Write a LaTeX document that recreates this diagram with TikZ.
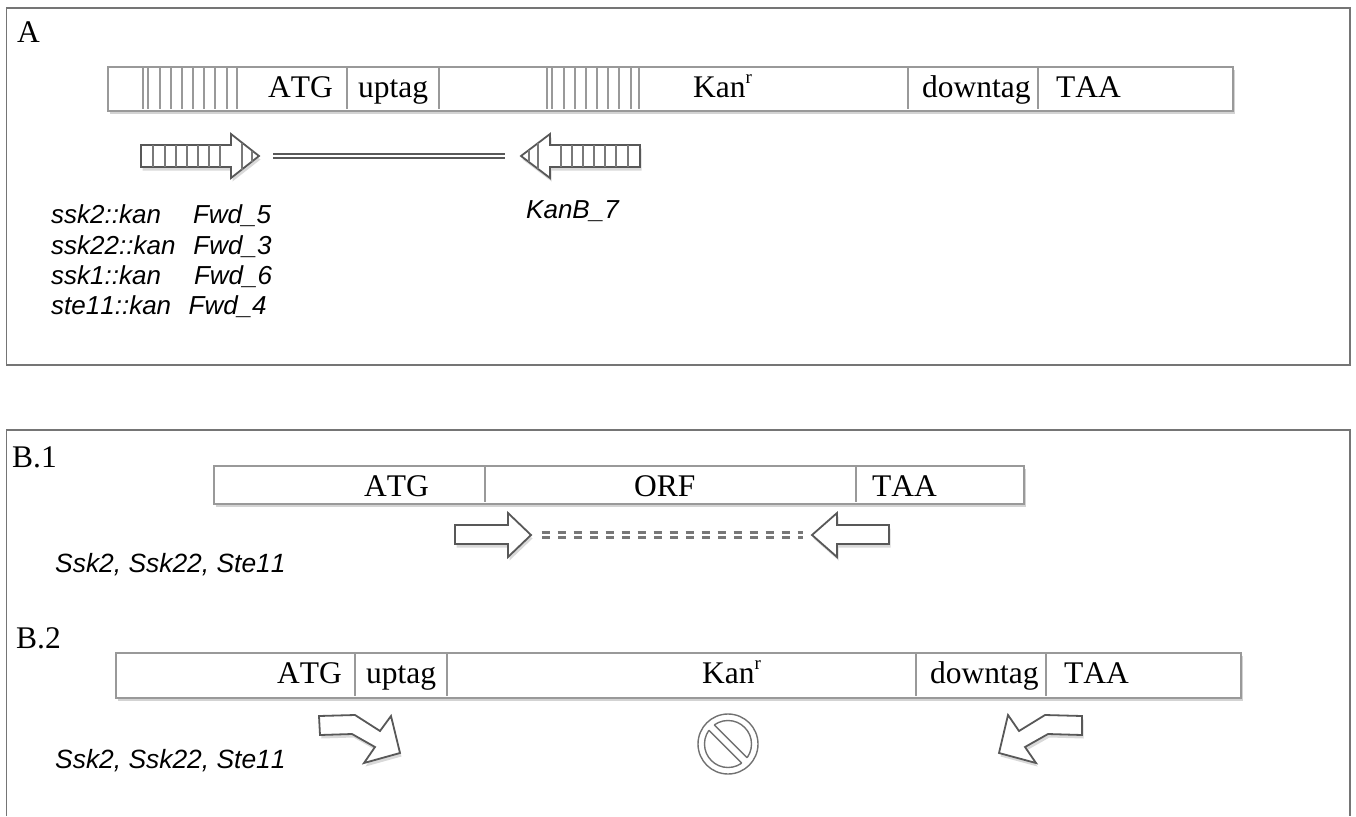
\documentclass[tikz,border=0pt]{standalone}
\usepackage{fontspec}
\setmainfont[Kerning=Off]{Liberation Serif}
\setsansfont[Kerning=Off]{Liberation Sans}
\usetikzlibrary{shadows}

\definecolor{boxgray}{HTML}{999999}
\definecolor{framegray}{HTML}{757575}
\definecolor{primergray}{HTML}{585858}
\definecolor{dashgray}{HTML}{777777}

\newcommand{\kanword}{Kan\raisebox{14pt}{\fontsize{19}{19}\selectfont r}}

\tikzset{
    frameline/.style={draw=framegray, line width=1.8pt},
    genebox/.style={draw=boxgray, line width=2.4pt, fill=white, anchor=north west, inner sep=0pt,
        drop shadow={shadow xshift=1.5pt, shadow yshift=-3pt, opacity=0.35}},
    divider/.style={draw=boxgray, line width=1.3pt},
    stripe/.style={draw=boxgray, line width=2pt},
    primer/.style={draw=primergray, line width=1.8pt, fill=white, line join=miter,
        drop shadow={shadow xshift=1.5pt, shadow yshift=-3.5pt, opacity=0.3}},
    primerstripe/.style={draw=primergray!80, line width=1.4pt},
    geneword/.style={anchor=base west, inner sep=0pt, font=\fontsize{31.5}{36}\selectfont},
    genelabel/.style={anchor=base west, inner sep=0pt, font=\fontsize{26}{30}\selectfont\sffamily\itshape},
    strainlabel/.style={genelabel, font=\fontsize{26.4}{30}\selectfont\sffamily\itshape},
    dsdna/.style={draw=primergray, line width=2.4pt, double=white, double distance=2pt},
    dashdna/.style={draw=dashgray, line width=2.8pt, double=white, double distance=2.2pt, dash pattern=on 8.3pt off 7.7pt},
}

\begin{document}
\begin{tikzpicture}[x=1pt, y=-1pt]

    \useasboundingbox (0,0) rectangle (1356,816);

    % Frames
    \draw[frameline] (6.5,8) rectangle (1350,365);
    \draw[frameline] (6.5,816) -- (6.5,430) -- (1350,430) -- (1350,816);

    % Panel labels
    \node[geneword] (panelA) at (17,43) {A};
    \node[geneword] (panelBa) at (12,467) {B.1};
    \node[geneword] (panelBb) at (16,648) {B.2};

    % Panel A: construct
    \node[genebox, minimum width=1125pt, minimum height=44pt] (boxA) at (107,66) {};
    \foreach \x in {143,148,160,171,182,193,204,215,227,237} {
        \draw[stripe] (\x,67) -- (\x,109);
    }
    \foreach \x in {547,552,564,575,586,597,608,619,631,639} {
        \draw[stripe] (\x,67) -- (\x,109);
    }
    \draw[divider] (347,67) -- (347,109);
    \draw[divider] (439,67) -- (439,109);
    \draw[divider] (908,67) -- (908,109);
    \draw[divider] (1038,67) -- (1038,109);
    \node[geneword] (atgA) at (268,97) {ATG};
    \node[geneword] (uptagA) at (358,97) {uptag};
    \node[geneword] (kanA) at (693,97) {\kanword};
    \node[geneword] (downtagA) at (922,97) {downtag};
    \node[geneword] (taaA) at (1056,97) {TAA};

    % Panel A: striped primers
    \draw[primer] (141,145) -- (231,145) -- (231,134) -- (259,156) -- (231,178) -- (231,167) -- (141,167) -- cycle;
    \foreach \x in {153,165,176,187,198,209,220} {
        \draw[primerstripe] (\x,145) -- (\x,167);
    }
    \draw[primerstripe] (242,142.5) -- (242,169.5);
    \draw[primerstripe] (252,150.5) -- (252,161.5);
    \draw[primer] (640,145) -- (550,145) -- (550,134) -- (521,156) -- (550,178) -- (550,167) -- (640,167) -- cycle;
    \foreach \x in {561,572,583,594,605,616,628} {
        \draw[primerstripe] (\x,145) -- (\x,167);
    }
    \draw[primerstripe] (538,143) -- (538,169);
    \draw[primerstripe] (529,150) -- (529,162);
    \coordinate (fwdtipA) at (259,156);
    \coordinate (revtipA) at (521,156);
    \draw[dsdna, shorten <=14pt, shorten >=16pt] (fwdtipA) -- (revtipA);

    % Panel A: primer names
    \node[genelabel] (ssk2A) at (51,223) {ssk2::kan\hspace{32pt}Fwd\_5};
    \node[genelabel] (ssk22A) at (51,254) {ssk22::kan\hspace{18pt}Fwd\_3};
    \node[genelabel] (ssk1A) at (51,284) {ssk1::kan\hspace{33pt}Fwd\_6};
    \node[genelabel] (ste11A) at (51,314) {ste11::kan\hspace{17.5pt}Fwd\_4};
    \node[genelabel] (kanbA) at (526,218) {KanB\_7};

    % Panel B.1: wild type
    \node[genebox, minimum width=810pt, minimum height=38pt] (boxBa) at (213,465) {};
    \draw[divider] (485,466) -- (485,502);
    \draw[divider] (856,466) -- (856,502);
    \node[geneword] (atgBa) at (364,496) {ATG};
    \node[geneword] (orfBa) at (634,496) {ORF};
    \node[geneword] (taaBa) at (872,496) {TAA};
    \draw[primer] (455,525) -- (508,525) -- (508,513) -- (531,535) -- (508,557) -- (508,544) -- (455,544) -- cycle;
    \draw[primer] (889,525) -- (837,525) -- (837,513) -- (812,535) -- (837,557) -- (837,544) -- (889,544) -- cycle;
    \coordinate (fwdtipBa) at (531,535);
    \coordinate (revtipBa) at (812,535);
    \draw[dashdna, shorten <=10.7pt, shorten >=9pt] (fwdtipBa) -- (revtipBa);
    \node[strainlabel] (ssksBa) at (55,572) {Ssk2, Ssk22, Ste11};

    % Panel B.2: deletion
    \node[genebox, minimum width=1125pt, minimum height=45pt] (boxBb) at (115,652) {};
    \draw[divider] (355,653) -- (355,696);
    \draw[divider] (447,653) -- (447,696);
    \draw[divider] (916,653) -- (916,696);
    \draw[divider] (1046,653) -- (1046,696);
    \node[geneword] (atgBb) at (277,683) {ATG};
    \node[geneword] (uptagBb) at (366,683) {uptag};
    \node[geneword] (kanBb) at (702,683) {\kanword};
    \node[geneword] (downtagBb) at (930,683) {downtag};
    \node[geneword] (taaBb) at (1064,683) {TAA};
    \draw[primer] (319,716) -- (355,715) -- (380,731) -- (391,716) -- (400,753) -- (364,763) -- (375,747) -- (352,734) -- (320,735) -- cycle;
    \draw[primer] (1082,716) -- (1045,715) -- (1019,731) -- (1008,715) -- (999,753) -- (1036,763) -- (1025,747) -- (1048,734) -- (1082,735) -- cycle;
    \node[strainlabel] (ssksBb) at (55,768) {Ssk2, Ssk22, Ste11};

    % No-sign
    \node[circle, draw=primergray!85, line width=1.4pt, minimum size=60pt, inner sep=0pt] (nosign) at (728,744) {};
    \draw[draw=primergray!85, line width=1.4pt] (nosign.center) circle (23.5);
    \begin{scope}[shift={(nosign.center)}, rotate=-45]
        \fill[white] (-25,-3.8) rectangle (25,3.8);
        \draw[draw=primergray!85, line width=1.4pt] (-23.2,-3.8) -- (23.2,-3.8);
        \draw[draw=primergray!85, line width=1.4pt] (-23.2,3.8) -- (23.2,3.8);
    \end{scope}

\end{tikzpicture}
\end{document}
